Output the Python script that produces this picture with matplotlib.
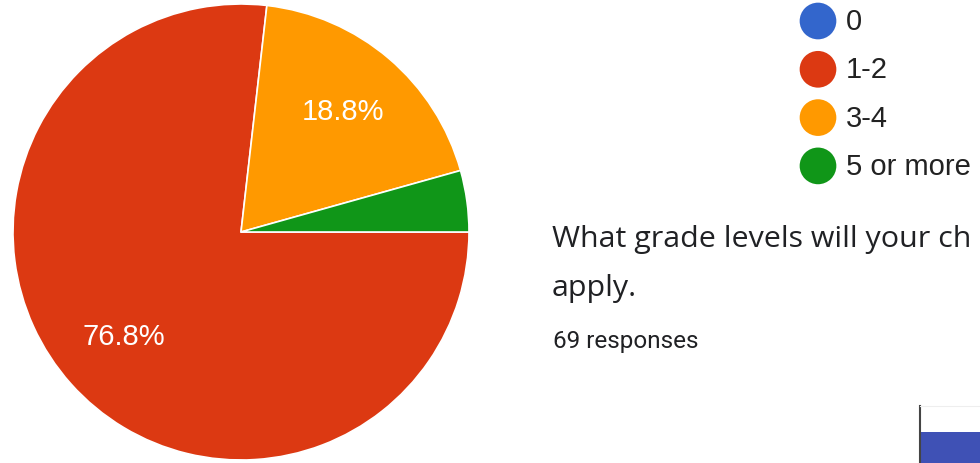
import matplotlib.pyplot as plt

# chart data
labels = ["0", "1-2", "3-4", "5 or more"]
counts = [0, 53, 13, 3]
colors = ["#3366cc", "#dc3912", "#ff9900", "#109618"]

question = ["What grade levels will your ch", "apply."]
responses = "69 responses"
grade_bar = [100]   # first bar of the next chart, mostly cut off

W, H = 980, 463
fig = plt.figure(figsize=(W / 100, H / 100), dpi=100)

# pie, centre ~ (241, 232) px, radius ~228 px
cx, cy, r = 241, 232, 228
ax = fig.add_axes([(cx - r) / W, (H - cy - r) / H, 2 * r / W, 2 * r / H])


def pct(p):
    return "%.1f%%" % p if p > 6 else ""


wedges, texts, autotexts = ax.pie(
    counts, colors=colors, startangle=0, counterclock=False,
    autopct=pct, pctdistance=0.69, radius=1,
    wedgeprops=dict(edgecolor="white", linewidth=1.2),
    textprops=dict(color="white", fontsize=21, family="Liberation Sans"))
ax.set_xlim(-1, 1)
ax.set_ylim(-1, 1)
ax.set_aspect("equal")
ax.axis("off")

# overlay in pixel coordinates for legend and text
ov = fig.add_axes([0, 0, 1, 1])
ov.set_xlim(0, W)
ov.set_ylim(H, 0)
ov.axis("off")

for i, (lab, col) in enumerate(zip(labels, colors)):
    y = 21 + 48.3 * i
    ov.scatter([818], [y], s=15 ** 2 * 3.1, color=col, edgecolors="none")
    ov.text(846, y + 1, lab, fontsize=21, family="Liberation Sans",
            color="#222222", va="center", ha="left")

ov.text(552, 247, question[0], fontsize=21.9, family="Open Sans",
        color="#202124", va="baseline")
ov.text(552, 296, question[1], fontsize=21.9, family="Open Sans",
        color="#202124", va="baseline")
ov.text(553, 348, responses, fontsize=17.5, family="Roboto",
        color="#202124", va="baseline")

# start of the next (bar) chart in the bottom-right corner
bx = fig.add_axes([920 / W, 0, 200 / W, (H - 406) / H])
bx.barh([0], grade_bar, height=1, color="#3f51b5", align="edge")
bx.set_xlim(0, 110)
bx.set_ylim(0, 57 / 31)
bx.set_xticks([])
bx.set_yticks([])
for s in ["right", "bottom"]:
    bx.spines[s].set_visible(False)
bx.spines["top"].set_color("#eeeeee")
bx.spines["left"].set_color("#444444")
bx.spines["left"].set_linewidth(1.5)

fig.savefig("out.png", dpi=100)
